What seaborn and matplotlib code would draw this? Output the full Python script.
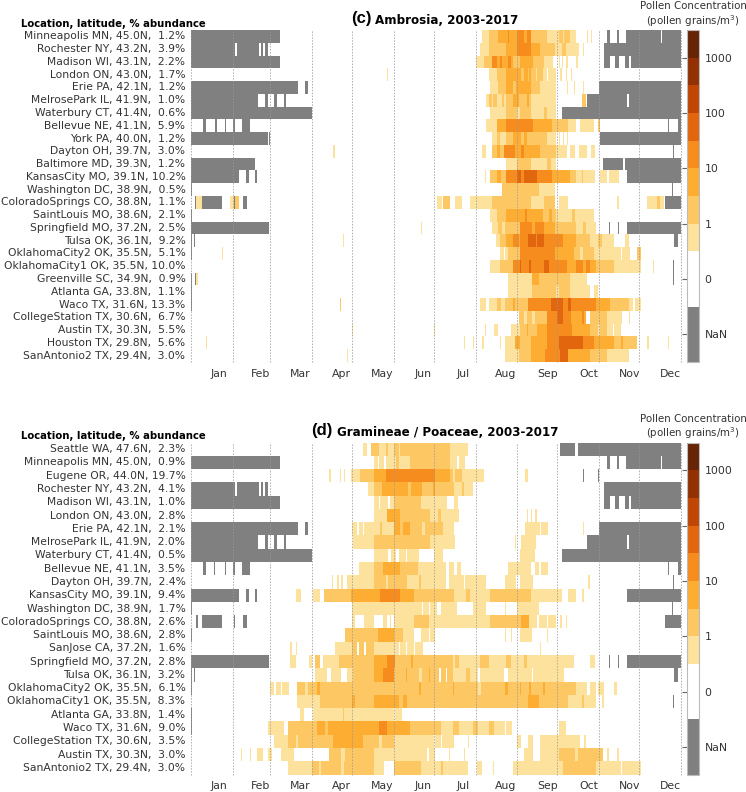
import numpy as np
import matplotlib
matplotlib.use('Agg')
import matplotlib.pyplot as plt
from matplotlib.colors import ListedColormap
import seaborn as sns

# levels: N = no data, 0 = no pollen, 1..5 = colour bands of the scale
# every run is (first day of year, end day, level), later runs overwrite earlier ones
N = -1

months = ['Jan', 'Feb', 'Mar', 'Apr', 'May', 'Jun', 'Jul', 'Aug', 'Sep', 'Oct', 'Nov', 'Dec']
month_starts = [0, 31, 59, 90, 120, 151, 181, 212, 243, 273, 304, 334, 365]
month_label_days = [21, 52, 81, 112, 142, 173, 203, 234, 266, 296, 327, 357]
cbar_labels = ['NaN', '0', '1', '10', '100', '1000']
band_colors = ['#808080', '#808080', '#ffffff', '#ffffff', '#fde29e', '#fdc864',
               '#fdae32', '#f78c1e', '#e2660e', '#bf4605', '#923204', '#662506']

# ---- (c) Ambrosia
amb_names = ['Minneapolis MN', 'Rochester NY', 'Madison WI', 'London ON', 'Erie PA', 'MelrosePark IL',
             'Waterbury CT', 'Bellevue NE', 'York PA', 'Dayton OH', 'Baltimore MD', 'KansasCity MO',
             'Washington DC', 'ColoradoSprings CO', 'SaintLouis MO', 'Springfield MO', 'Tulsa OK',
             'OklahomaCity2 OK', 'OklahomaCity1 OK', 'Greenville SC', 'Atlanta GA', 'Waco TX',
             'CollegeStation TX', 'Austin TX', 'Houston TX', 'SanAntonio2 TX']
amb_lat = [45.0, 43.2, 43.1, 43.0, 42.1, 41.9, 41.4, 41.1, 40.0, 39.7, 39.3, 39.1, 38.9, 38.8, 38.6,
           37.2, 36.1, 35.5, 35.5, 34.9, 33.8, 31.6, 30.6, 30.3, 29.8, 29.4]
amb_pct = [1.2, 3.9, 2.2, 1.7, 1.2, 1.0, 0.6, 5.9, 1.2, 3.0, 1.2, 10.2, 0.5, 1.1, 2.1, 2.5, 9.2, 5.1,
           10.0, 0.9, 1.1, 13.3, 6.7, 5.5, 5.6, 3.0]

amb_minneapolis = [(0, 66, N), (217, 222, 1), (222, 229, 2), (229, 243, 3), (236, 237, 4), (243, 253, 4),
                   (248, 250, 3), (253, 265, 2), (265, 274, 1), (274, 282, 2), (277, 278, 1), (282, 287, 1),
                   (295, 296, 1), (298, 299, 1), (310, 312, N), (317, 319, N), (324, 350, N), (351, 365, N)]
amb_rochester = [(0, 33, N), (34, 51, N), (52, 54, N), (55, 57, N), (215, 222, 1), (222, 235, 2), (235, 243, 3),
                 (243, 253, 4), (253, 260, 3), (260, 271, 2), (271, 289, 1), (276, 279, 2), (292, 293, 1),
                 (308, 365, N)]
amb_madison = [(0, 66, N), (212, 218, 1), (218, 224, 2), (224, 232, 4), (228, 230, 3), (232, 240, 3), (236, 238, 4),
               (240, 245, 2), (245, 255, 3), (255, 263, 2), (263, 270, 1), (274, 275, 1), (276, 277, 1),
               (279, 281, 1), (287, 288, 1), (308, 312, N), (316, 319, N), (323, 326, N), (328, 365, N)]
amb_london = [(146, 147, 1), (222, 228, 1), (228, 235, 2), (235, 253, 3), (246, 248, 2), (251, 252, 2), (253, 262, 2),
              (257, 258, 1), (262, 272, 1), (265, 266, 0), (275, 276, 1), (279, 280, 1), (283, 284, 1)]
amb_erie = [(0, 80, N), (85, 87, N), (223, 229, 1), (229, 235, 2), (235, 253, 3), (240, 242, 2), (253, 260, 2),
            (260, 272, 1), (280, 281, 1), (285, 286, 1), (292, 293, 1), (304, 365, N)]
amb_melrose = [(0, 50, N), (55, 57, N), (62, 64, N), (69, 71, N), (220, 222, 1), (222, 228, 2), (224, 225, 1),
               (228, 235, 1), (232, 233, 2), (235, 253, 2), (240, 244, 3), (250, 252, 3), (253, 272, 1),
               (291, 294, 2), (295, 325, N), (326, 365, N)]
amb_waterbury = [(0, 90, N), (223, 235, 1), (235, 253, 2), (243, 245, 1), (253, 272, 1), (263, 265, 2), (276, 365, N)]
amb_bellevue = [(9, 11, N), (18, 19, N), (25, 26, N), (31, 33, N), (38, 44, N), (220, 228, 1), (228, 235, 3),
                (235, 255, 4), (255, 269, 3), (269, 281, 2), (281, 287, 1), (290, 300, 1), (303, 305, 2),
                (355, 356, N), (363, 365, N)]
amb_york = [(0, 57, N), (58, 59, N), (224, 235, 1), (228, 230, 2), (235, 253, 2), (240, 246, 3), (248, 250, 3),
            (253, 265, 2), (265, 272, 1), (274, 275, 1), (277, 278, 1), (280, 281, 1), (305, 365, N)]
amb_dayton = [(106, 107, 1), (217, 220, 1), (224, 233, 2), (228, 230, 3), (233, 241, 4), (241, 252, 3), (246, 248, 4),
              (252, 260, 3), (260, 272, 2), (272, 280, 1), (282, 286, 1), (289, 295, 1), (298, 301, 1), (359, 360, N)]
amb_baltimore = [(0, 48, N), (235, 243, 1), (243, 253, 2), (253, 260, 1), (260, 272, 1), (265, 268, 2),
                 (307, 322, N), (323, 365, N)]
amb_kansascity = [(0, 36, N), (41, 43, N), (48, 49, N), (219, 220, 1), (223, 235, 2), (228, 231, 3), (235, 243, 4),
                  (243, 258, 5), (246, 248, 4), (258, 269, 4), (269, 282, 3), (282, 287, 2),
                  (287, 301, 1), (291, 292, 2), (305, 319, 1), (310, 311, 0), (325, 365, N)]
amb_washington = [(0, 1, N), (232, 259, 2), (259, 271, 1), (358, 359, N)]
amb_colorado = [(3, 4, N), (4, 8, 1), (8, 23, N), (29, 32, 1), (32, 33, N), (33, 36, 2), (39, 42, N), (183, 187, 1),
                (188, 193, 2), (197, 202, 1), (208, 224, 1), (224, 253, 2), (253, 263, 1), (263, 271, 2),
                (274, 281, 1), (317, 319, 1), (340, 352, 1), (347, 349, 2), (353, 365, N)]
amb_saintlouis = [(0, 1, N), (223, 228, 1), (228, 235, 2), (235, 245, 3), (245, 262, 3), (249, 250, 4), (262, 272, 2),
                  (272, 280, 1), (267, 269, 3), (280, 300, 1), (284, 286, 2)]
amb_springfield = [(0, 58, N), (171, 172, 1), (224, 229, 1), (229, 245, 2), (232, 234, 1), (245, 263, 4), (254, 256, 3),
                   (263, 271, 3), (271, 280, 2), (280, 287, 2), (287, 302, 1), (292, 294, 2), (311, 312, N),
                   (318, 319, N), (325, 365, N)]
amb_tulsa = [(0, 1, N), (2, 3, N), (113, 114, 1), (227, 230, 1), (230, 235, 2), (235, 240, 3), (240, 251, 4), (244, 245, 3),
             (251, 263, 5), (257, 258, 4), (263, 277, 4), (277, 287, 3), (287, 297, 2), (297, 315, 1), (303, 306, 2),
             (323, 326, 1), (360, 363, N)]
amb_okc2 = [(0, 1, N), (23, 24, 1), (230, 236, 1), (233, 234, 0), (236, 245, 2), (245, 271, 4), (271, 279, 3),
            (279, 285, 3), (285, 300, 2), (290, 292, 1), (300, 320, 1), (321, 327, 1), (332, 335, 2)]
amb_okc1 = [(223, 230, 1), (230, 240, 2), (240, 263, 4), (245, 246, 5), (252, 253, 5), (263, 267, 5), (267, 280, 4),
            (280, 287, 3), (287, 297, 4), (292, 294, 3), (297, 302, 3), (302, 315, 2), (315, 335, 1), (344, 345, 1),
            (359, 360, N)]
amb_greenville = [(0, 1, N), (3, 4, N), (4, 5, 1), (236, 254, 1), (254, 259, 3), (259, 282, 2), (282, 295, 1),
                  (359, 360, N)]
amb_atlanta = [(0, 1, N), (236, 248, 1), (248, 254, 1), (254, 263, 2), (263, 282, 2), (272, 274, 1), (282, 297, 1),
               (300, 303, 1)]
amb_waco = [(0, 1, N), (111, 112, 2), (215, 220, 1), (222, 234, 1), (228, 231, 2), (234, 251, 2), (240, 241, 3),
            (251, 268, 4), (268, 277, 5), (277, 285, 4), (281, 283, 5), (285, 302, 4), (302, 312, 3),
            (312, 326, 2), (326, 329, 1), (331, 335, 1)]
amb_college = [(244, 265, 2), (248, 250, 1), (254, 256, 1), (265, 275, 4), (273, 277, 5), (277, 283, 4), (283, 289, 3),
               (289, 294, 3), (291, 293, 4), (297, 310, 2), (310, 321, 1), (326, 327, 1)]
amb_austin = [(120, 121, 1), (181, 182, 1), (219, 220, 1), (226, 229, 1), (238, 245, 1), (245, 258, 2),
              (250, 251, 3), (258, 265, 3), (265, 284, 4), (284, 297, 3), (297, 310, 2), (303, 305, 1), (310, 320, 1),
              (314, 315, 0)]
amb_houston = [(11, 12, 1), (203, 204, 1), (210, 211, 1), (217, 218, 1), (230, 231, 1), (234, 241, 1), (241, 245, 3),
               (245, 253, 2), (253, 265, 3), (265, 274, 4), (274, 280, 5), (280, 292, 5), (292, 300, 4),
               (300, 315, 3), (315, 332, 2), (320, 322, 3), (340, 341, 1), (355, 356, 1)]
amb_sanantonio = [(116, 117, 1), (234, 244, 1), (244, 253, 2), (253, 264, 3), (264, 275, 4), (275, 281, 5), (281, 297, 3),
                  (297, 310, 2), (310, 326, 1)]

amb_rows = [amb_minneapolis, amb_rochester, amb_madison, amb_london, amb_erie, amb_melrose, amb_waterbury,
            amb_bellevue, amb_york, amb_dayton, amb_baltimore, amb_kansascity, amb_washington, amb_colorado,
            amb_saintlouis, amb_springfield, amb_tulsa, amb_okc2, amb_okc1, amb_greenville, amb_atlanta, amb_waco,
            amb_college, amb_austin, amb_houston, amb_sanantonio]

# ---- (d) Gramineae / Poaceae
gra_names = ['Seattle WA', 'Minneapolis MN', 'Eugene OR', 'Rochester NY', 'Madison WI', 'London ON', 'Erie PA',
             'MelrosePark IL', 'Waterbury CT', 'Bellevue NE', 'Dayton OH', 'KansasCity MO', 'Washington DC',
             'ColoradoSprings CO', 'SaintLouis MO', 'SanJose CA', 'Springfield MO', 'Tulsa OK', 'OklahomaCity2 OK',
             'OklahomaCity1 OK', 'Atlanta GA', 'Waco TX', 'CollegeStation TX', 'Austin TX', 'SanAntonio2 TX']
gra_lat = [47.6, 45.0, 44.0, 43.2, 43.1, 43.0, 42.1, 41.9, 41.4, 41.1, 39.7, 39.1, 38.9, 38.8, 38.6, 37.2, 37.2,
           36.1, 35.5, 35.5, 33.8, 31.6, 30.6, 30.3, 29.4]
gra_pct = [2.3, 0.9, 19.7, 4.1, 1.0, 2.8, 2.1, 2.0, 0.5, 3.5, 2.4, 9.4, 1.7, 2.6, 2.8, 1.6, 2.8, 3.2, 6.1, 8.3, 1.4,
           9.0, 3.5, 3.0, 3.0]

gra_seattle = [(128, 131, 1), (134, 140, 2), (140, 151, 1), (145, 147, 2), (151, 161, 2), (155, 156, 1), (161, 193, 2),
               (193, 206, 1), (275, 286, N), (288, 365, N)]
gra_minneapolis = [(0, 66, N), (136, 150, 1), (139, 140, 0), (144, 145, 0), (150, 163, 1), (153, 155, 2), (163, 193, 2),
                   (193, 198, 1), (198, 200, 0), (200, 204, 1), (310, 312, N), (317, 319, N), (324, 350, N), (351, 365, N)]
gra_eugene = [(103, 104, 1), (111, 112, 1), (114, 115, 1), (119, 126, 1), (126, 136, 2), (136, 145, 3), (145, 150, 4),
              (150, 166, 4), (166, 182, 4), (182, 193, 3), (193, 202, 2), (195, 197, 1), (202, 218, 1),
              (249, 251, 1), (292, 293, N), (303, 304, N)]
gra_rochester = [(0, 33, N), (34, 51, N), (52, 54, N), (55, 57, N), (132, 136, 1), (136, 142, 2), (142, 172, 3), (162, 164, 2),
                 (172, 196, 2), (180, 182, 3), (196, 210, 1), (202, 203, 2), (308, 365, N)]
gra_madison = [(0, 66, N), (136, 151, 1), (140, 141, 0), (147, 148, 0), (151, 171, 2), (171, 191, 1), (191, 196, 0),
               (196, 199, 1), (308, 312, N), (316, 319, N), (323, 326, N), (328, 365, N)]
gra_london = [(136, 146, 1), (146, 156, 3), (156, 178, 2), (178, 200, 1), (184, 186, 2), (250, 251, 1), (253, 254, 1),
              (256, 258, 1)]
gra_erie = [(0, 80, N), (85, 87, N), (120, 136, 1), (124, 125, 0), (128, 129, 0), (136, 151, 1), (141, 142, 2), (151, 163, 3),
            (156, 158, 2), (163, 188, 2), (172, 174, 1), (188, 196, 1), (249, 260, 1), (261, 266, 1), (292, 293, 1),
            (304, 365, N)]
gra_melrose = [(0, 50, N), (55, 57, N), (62, 64, N), (69, 71, N), (121, 136, 1), (136, 178, 2), (178, 197, 1), (241, 242, 1),
               (246, 257, 1), (295, 325, N), (326, 365, N)]
gra_waterbury = [(0, 90, N), (136, 143, 1), (143, 170, 1), (147, 149, 0), (153, 155, 0), (160, 161, 0), (181, 188, 1),
                 (245, 256, 1), (276, 365, N)]
gra_bellevue = [(9, 11, N), (17, 18, N), (25, 26, N), (31, 33, N), (38, 44, N), (125, 136, 1), (136, 143, 2), (143, 147, 3),
                (147, 156, 3), (156, 169, 2), (169, 190, 1), (192, 196, 1), (198, 201, 1), (236, 253, 1), (256, 259, 1),
                (261, 266, 1), (355, 356, N), (363, 365, N)]
gra_dayton = [(105, 106, 1), (109, 110, 1), (112, 113, 1), (116, 136, 1), (136, 161, 2), (145, 147, 1), (161, 220, 1),
              (170, 171, 2), (190, 192, 0), (203, 204, 0), (234, 242, 1), (245, 255, 1), (296, 297, 1), (359, 360, N)]
gra_kansascity = [(0, 36, N), (41, 43, N), (48, 49, N), (78, 82, 1), (91, 96, 1), (99, 119, 2), (119, 136, 3), (136, 141, 3),
                  (141, 156, 4), (156, 166, 3), (166, 196, 2), (196, 223, 1), (205, 208, 2), (223, 253, 2), (253, 276, 1),
                  (281, 287, 1), (291, 293, 1), (325, 365, N)]
gra_washington = [(0, 1, N), (120, 136, 1), (136, 166, 1), (166, 183, 1), (172, 173, 0), (177, 178, 0), (186, 198, 1),
                  (199, 208, 0), (210, 220, 1), (234, 235, 1), (243, 259, 1), (358, 359, N)]
gra_colorado = [(4, 5, N), (8, 23, N), (32, 33, N), (39, 42, N), (120, 122, 1), (129, 136, 1), (143, 146, 1), (148, 149, 1),
                (151, 166, 1), (166, 177, 2), (177, 183, 1), (183, 223, 1), (223, 233, 2), (233, 246, 2), (246, 252, 3),
                (252, 272, 1), (258, 259, 0), (265, 266, 0), (275, 276, 1), (279, 280, 1), (353, 365, N)]
gra_saintlouis = [(0, 1, N), (115, 136, 2), (136, 139, 2), (139, 151, 3), (151, 158, 2), (158, 166, 1), (171, 177, 1),
                  (178, 182, 1), (234, 235, 1), (238, 239, 1), (245, 254, 1), (265, 266, 1)]
gra_sanjose = [(74, 75, 1), (78, 79, 1), (107, 120, 1), (120, 136, 2), (124, 125, 0), (129, 130, 0), (136, 151, 1), (151, 173, 1),
               (155, 156, 0), (160, 161, 0), (166, 167, 0), (260, 261, 1)]
gra_springfield = [(0, 58, N), (74, 78, 1), (88, 90, 1), (92, 96, 2), (98, 110, 1), (110, 136, 2), (136, 146, 3), (146, 152, 4),
                   (152, 195, 2), (164, 165, 3), (195, 285, 1), (197, 200, 2), (215, 222, 2), (235, 238, 2), (248, 250, 2),
                   (297, 301, 1), (311, 312, N), (318, 319, N), (325, 365, N)]
gra_tulsa = [(0, 1, N), (2, 3, N), (92, 101, 1), (104, 112, 1), (116, 121, 1), (121, 136, 2), (136, 143, 3), (143, 151, 4),
             (151, 195, 2), (160, 161, 3), (170, 172, 1), (177, 178, 3), (185, 186, 0), (190, 191, 0), (195, 278, 1),
             (205, 208, 2), (214, 215, 0), (233, 236, 0), (254, 255, 0), (360, 363, N)]
gra_okc2 = [(0, 1, N), (59, 73, 1), (62, 63, 0), (67, 68, 0), (79, 106, 2), (85, 87, 1), (94, 96, 3), (106, 136, 2), (136, 287, 2),
            (170, 171, 3), (195, 196, 3), (214, 216, 1), (234, 236, 3), (245, 246, 3), (252, 253, 3), (262, 264, 3),
            (287, 295, 1), (297, 302, 1), (303, 308, 1), (315, 317, 1)]
gra_okc1 = [(79, 96, 1), (96, 136, 2), (120, 122, 3), (136, 143, 3), (143, 161, 3), (155, 158, 2), (161, 251, 2), (251, 259, 3),
            (259, 281, 2), (281, 302, 1), (291, 293, 2), (306, 308, 1), (359, 360, N)]
gra_atlanta = [(0, 1, N), (81, 84, 1), (91, 109, 1), (109, 136, 1), (113, 114, 2), (136, 151, 1), (152, 157, 1)]
gra_waco = [(0, 1, N), (57, 69, 1), (72, 94, 2), (94, 136, 3), (100, 102, 2), (136, 163, 3), (140, 146, 4), (163, 186, 2),
            (186, 234, 1), (195, 200, 2), (210, 214, 2), (222, 226, 2), (235, 239, 1), (274, 279, 1)]
gra_college = [(62, 72, 1), (72, 106, 2), (78, 80, 1), (106, 128, 3), (128, 136, 2), (136, 151, 2), (140, 142, 1), (151, 176, 1),
               (176, 196, 1), (181, 182, 0), (186, 187, 0), (206, 207, 1), (243, 246, 1), (251, 255, 1), (260, 274, 1),
               (274, 290, 1), (293, 294, 1)]
gra_austin = [(37, 38, 1), (44, 45, 1), (49, 54, 1), (57, 60, 1), (67, 77, 1), (103, 136, 2), (112, 115, 1), (136, 161, 1), (161, 176, 1),
              (177, 182, 1), (192, 193, 1), (203, 204, 1), (248, 255, 1), (260, 274, 1), (274, 307, 2), (286, 288, 1), (310, 311, 1),
              (317, 319, 1)]
gra_sanantonio = [(72, 90, 1), (90, 106, 2), (95, 97, 1), (106, 136, 2), (112, 114, 1), (136, 144, 1), (151, 171, 2), (171, 206, 1),
                  (186, 188, 2), (213, 217, 1), (225, 226, 1), (240, 277, 1), (277, 302, 2), (302, 320, 1), (321, 335, 1)]

gra_rows = [gra_seattle, gra_minneapolis, gra_eugene, gra_rochester, gra_madison, gra_london, gra_erie, gra_melrose,
            gra_waterbury, gra_bellevue, gra_dayton, gra_kansascity, gra_washington, gra_colorado, gra_saintlouis,
            gra_sanjose, gra_springfield, gra_tulsa, gra_okc2, gra_okc1, gra_atlanta, gra_waco, gra_college, gra_austin,
            gra_sanantonio]


def band_value(level):
    # position of a level on the 12 band colour scale
    if level == N:
        return 1
    if level == 0:
        return 3
    return 3.5 + level


def make_matrix(rows):
    mat = np.full((len(rows), 365), band_value(0))
    for i, runs in enumerate(rows):
        for start, end, level in runs:
            mat[i, start:end] = band_value(level)
    return mat


W, H = 746, 792
sns.set_theme(style='white')
plt.rcParams['font.family'] = 'DejaVu Sans'
plt.rcParams['text.color'] = '#333333'
fig = plt.figure(figsize=(W / 100, H / 100), dpi=100)
cmap = ListedColormap(band_colors)


def panel(rows, names, lat, pct, top, bottom, letter, title, letter_x, title_x, title_y, head_y):
    ax = fig.add_axes([191 / W, 1 - bottom / H, 490 / W, (bottom - top) / H])
    cax = fig.add_axes([686.5 / W, 1 - bottom / H, 12.5 / W, (bottom - top) / H])
    labels = [f'{n}, {a:.1f}N, {p:4.1f}%' for n, a, p in zip(names, lat, pct)]
    sns.heatmap(make_matrix(rows), ax=ax, cbar_ax=cax, cmap=cmap, vmin=0, vmax=12, xticklabels=False,
                yticklabels=labels, cbar_kws={'ticks': [1, 3, 5, 7, 9, 11]})
    ax.set_yticklabels(labels, rotation=0, fontsize=7.75, color='#333333')
    ax.set_xticks(month_label_days)
    ax.set_xticklabels(months, fontsize=7.85, color='#333333')
    ax.tick_params(axis='both', length=0)
    ax.tick_params(axis='y', pad=4)
    ax.tick_params(axis='x', pad=5)
    for d in month_starts:
        ax.axvline(d, color='#999999', lw=0.7, ls=(0, (1.5, 1.5)), clip_on=False, alpha=0.8)

    cbar = ax.collections[0].colorbar
    cbar.ax.set_yticklabels(cbar_labels, fontsize=7.85, color='#333333')
    cbar.ax.tick_params(length=12.5, width=0.8, color='#666666', direction='in', pad=4)
    cbar.outline.set_visible(True)
    cbar.outline.set_edgecolor('#bbbbbb')
    cbar.outline.set_linewidth(0.8)

    fig.text(21 / W, 1 - head_y / H, 'Location, latitude, % abundance', fontsize=7.3, fontweight='bold',
             color='black', va='center')
    fig.text(letter_x / W, 1 - (title_y - 2) / H, letter, fontsize=12, fontweight='bold', color='black',
             family='Liberation Sans', va='center')
    fig.text(title_x / W, 1 - title_y / H, title, fontsize=8.6, fontweight='bold', color='black', va='center')
    fig.text(693 / W, 1 - (top - 24) / H, 'Pollen Concentration', fontsize=7.4, ha='center', va='center')
    fig.text(693 / W, 1 - (top - 9) / H, '(pollen grains/m$^3$)', fontsize=7.4, ha='center', va='center')


panel(amb_rows, amb_names, amb_lat, amb_pct, 30, 362, '(c)', 'Ambrosia, 2003-2017', 351, 375, 21, 24)
panel(gra_rows, gra_names, gra_lat, gra_pct, 442.5, 774.5, '(d)', 'Gramineae / Poaceae, 2003-2017', 311, 337, 433, 436)

fig.savefig('out.png', dpi=100)
